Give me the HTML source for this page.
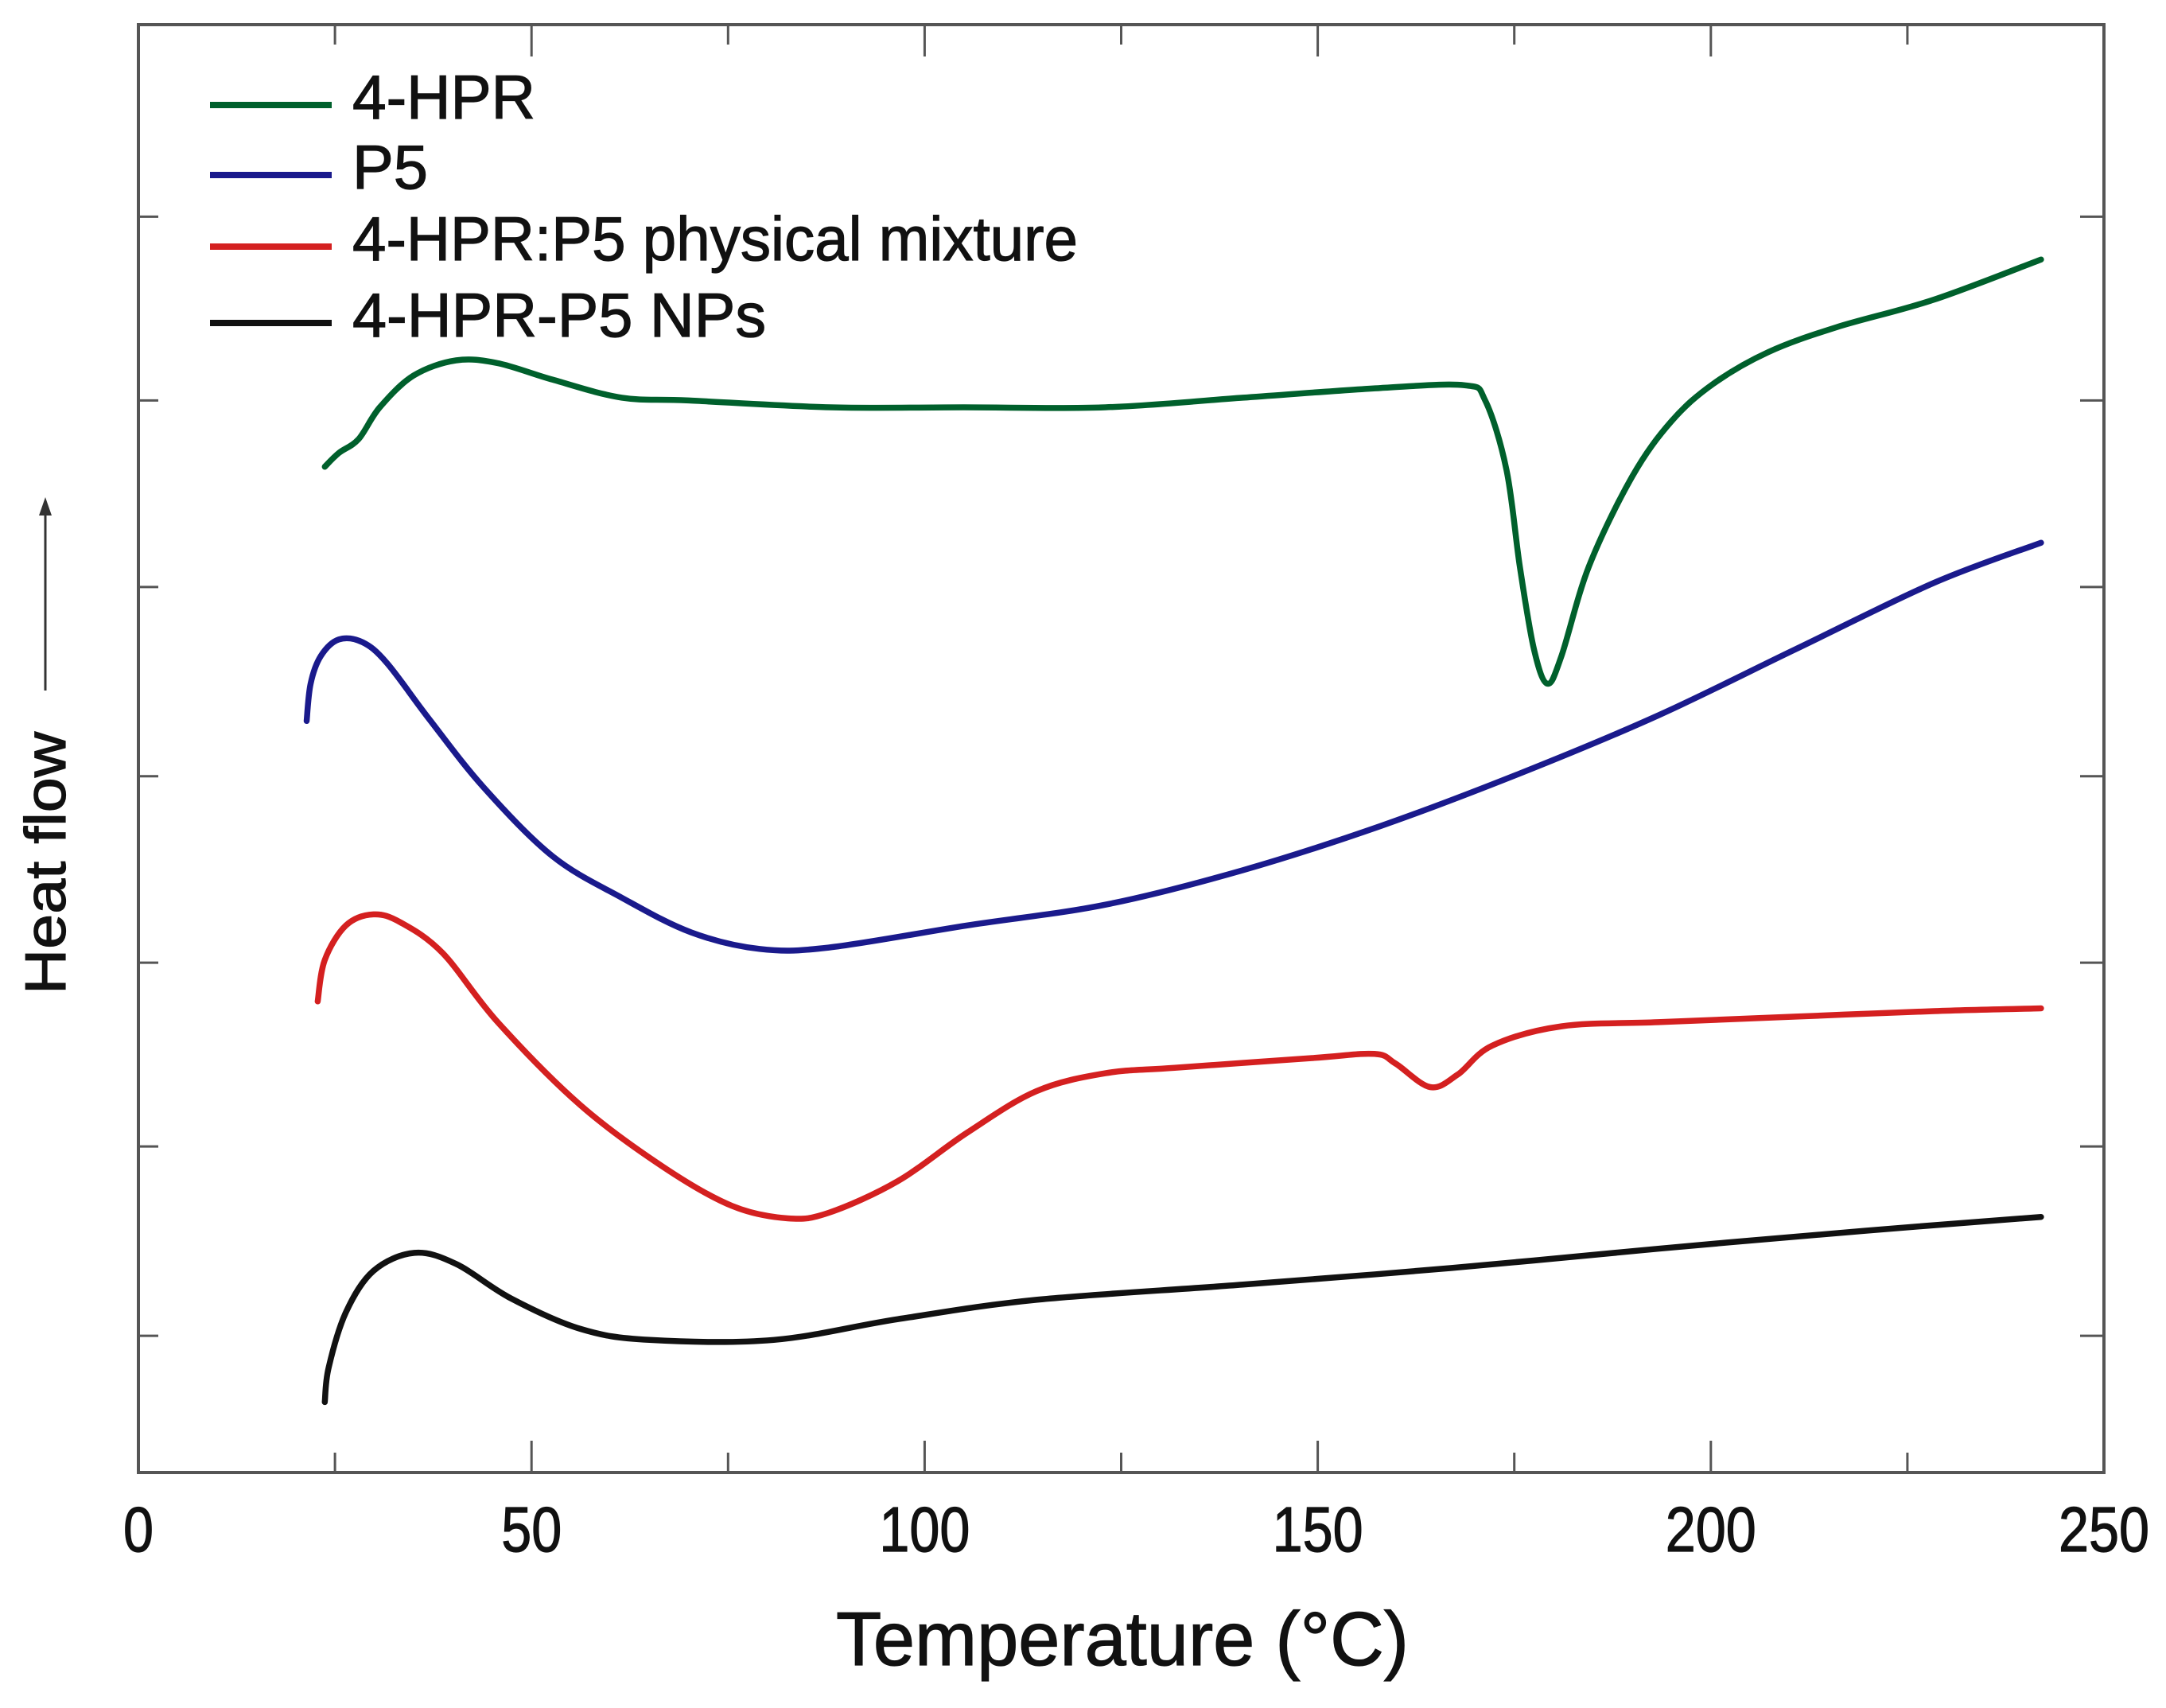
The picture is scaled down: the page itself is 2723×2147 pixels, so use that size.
<!DOCTYPE html>
<html><head><meta charset="utf-8"><style>
html,body{margin:0;padding:0;background:#fff;}
svg{display:block;}
text{font-family:"Liberation Sans",sans-serif;fill:#111;stroke:#111;stroke-width:1.2;}
</style></head><body>
<svg id="chart" width="2723" height="2147" viewBox="0 0 2723 2147" xmlns="http://www.w3.org/2000/svg">
<g id="plot"></g>
</svg>
<script>
const xTicks = [0, 50, 100, 150, 200, 250];
const xMinorTicks = [25, 75, 125, 175, 225];
const yTicks = [9.09, 7.76, 6.41, 5.04, 3.69, 2.36, 0.99];
const seriesNames = ["4-HPR", "P5", "4-HPR:P5 physical mixture", "4-HPR-P5 NPs"];
const seriesColors = ["#00602c", "#1a1a8c", "#d42020", "#111111"];
const greenT = [23.7,25.5,28,30.7,35,40.4,45.7,52.7,61.5,70,88,105,123,140.5,158,168.7,171.3,174,175.7,177.5,179.2,181,184.5,190,195,200.3,207.3,216,228.4,242];
const greenV = [7.28,7.38,7.48,7.71,7.94,8.05,8.03,7.91,7.78,7.76,7.71,7.71,7.71,7.78,7.85,7.87,7.76,7.26,6.56,5.96,5.71,5.91,6.56,7.21,7.61,7.88,8.11,8.29,8.49,8.78];
const blueT = [21.4,21.9,23.2,25.5,28.5,31.6,36.9,43.9,52.7,61.5,70.3,79,87.8,105.4,123,140.5,158,175.7,193.3,210.8,228.4,242];
const blueV = [5.44,5.71,5.91,6.03,6.01,5.86,5.46,4.96,4.46,4.16,3.91,3.79,3.80,3.96,4.11,4.36,4.68,5.06,5.48,5.96,6.44,6.73];
const redT = [22.8,23.7,26.4,29.9,33.4,38.7,45.7,56.2,66.8,75.5,82.6,87.8,96.6,105.4,114.2,123,131.8,149.3,157.2,159.9,164.3,167.8,172.2,181,193.3,210.8,228.4,242];
const redV = [3.41,3.71,3.96,4.04,3.98,3.76,3.26,2.66,2.21,1.93,1.84,1.88,2.11,2.46,2.76,2.89,2.93,3.00,3.03,2.96,2.79,2.88,3.09,3.23,3.26,3.30,3.34,3.36];
const blackT = [23.7,24.2,26.4,29.9,35.1,40.4,47.4,56.2,65,80.8,96.6,114.2,140.5,166.9,193.3,219.6,242];
const blackV = [0.51,0.76,1.16,1.46,1.59,1.51,1.26,1.04,0.96,0.96,1.11,1.25,1.36,1.48,1.62,1.75,1.85];

const L=174,R=2645,T=31,B=1851,XMIN=0,XMAX=250,YMIN=0,YMAX=10.48;
function xs(v){return L+(v-XMIN)/(XMAX-XMIN)*(R-L);}
function ys(v){return B-(v-YMIN)/(YMAX-YMIN)*(B-T);}
const NS="http://www.w3.org/2000/svg";
const plot=document.getElementById('plot');
function mk(tag,attrs,parent){const e=document.createElementNS(NS,tag);for(const k in attrs)e.setAttribute(k,attrs[k]);(parent||plot).appendChild(e);return e;}

function smoothPath(tx,vy){
  const p=tx.map((t,i)=>[xs(t),ys(vy[i])]);
  let d="M"+p[0][0].toFixed(1)+","+p[0][1].toFixed(1);
  for(let i=0;i<p.length-1;i++){
    const p0=p[i-1]||p[i],p1=p[i],p2=p[i+1],p3=p[i+2]||p2;
    const c1=[p1[0]+(p2[0]-p0[0])/6,p1[1]+(p2[1]-p0[1])/6];
    const c2=[p2[0]-(p3[0]-p1[0])/6,p2[1]-(p3[1]-p1[1])/6];
    d+=" C"+c1.map(v=>v.toFixed(1)).join(",")+" "+c2.map(v=>v.toFixed(1)).join(",")+" "+p2.map(v=>v.toFixed(1)).join(",");
  }
  return d;
}

xTicks.forEach(t=>{
  const a=mk('line',{x1:xs(t),x2:xs(t),y1:B,y2:B-40,stroke:'#555','stroke-width':3});
  
  
  const b=mk('line',{x1:xs(t),x2:xs(t),y1:T,y2:T+40,stroke:'#555','stroke-width':3});
  
  
  const lb=mk('text',{x:xs(t),y:1950,'text-anchor':'middle','font-size':80,textLength:String(t).length*38,lengthAdjust:'spacingAndGlyphs'});
  lb.textContent=t;
  
  
});
xMinorTicks.forEach(t=>{
  const a=mk('line',{x1:xs(t),x2:xs(t),y1:B,y2:B-25,stroke:'#555','stroke-width':3});
  
  
  const b=mk('line',{x1:xs(t),x2:xs(t),y1:T,y2:T+25,stroke:'#555','stroke-width':3});
  
  
});
yTicks.forEach(v=>{
  const a=mk('line',{x1:L,x2:L+25,y1:ys(v),y2:ys(v),stroke:'#555','stroke-width':3});
  
  
  const b=mk('line',{x1:R,x2:R-30,y1:ys(v),y2:ys(v),stroke:'#555','stroke-width':3});
  
  
});
const fr=mk('rect',{x:L,y:T,width:R-L,height:B-T,fill:'none',stroke:'#555','stroke-width':4});



const allT=[greenT,blueT,redT,blackT], allV=[greenV,blueV,redV,blackV];
const sNames=['curve-4-hpr','curve-p5','curve-physical-mixture','curve-nps'];
allT.forEach((tx,i)=>{
  const p=mk('path',{d:smoothPath(tx,allV[i]),fill:'none',stroke:seriesColors[i],'stroke-width':7.5,'stroke-linejoin':'round','stroke-linecap':'round'});
  
  
});

const legY=[114,202,292,388];
const legW=[230,95,912,520];
seriesNames.forEach((n,i)=>{
  const g=mk('g',{});
  
  
  mk('line',{x1:264,x2:417,y1:legY[i]+18,y2:legY[i]+18,stroke:seriesColors[i],'stroke-width':8},g);
  const t=mk('text',{x:443,y:legY[i]+35,'font-size':78,textLength:legW[i],lengthAdjust:'spacingAndGlyphs'},g);
  t.textContent=n;
});

const xt=mk('text',{x:1411,y:2093,'text-anchor':'middle','font-size':96,textLength:720,lengthAdjust:'spacingAndGlyphs'});
xt.textContent='Temperature (°C)';


const yt=mk('text',{x:0,y:0,'text-anchor':'middle','font-size':72,transform:'translate(82,1085) rotate(-90)',textLength:330,lengthAdjust:'spacingAndGlyphs'});
yt.textContent='Heat flow';


const ya=mk('g',{});


mk('line',{x1:57,x2:57,y1:868,y2:640,stroke:'#333','stroke-width':3},ya);
mk('path',{d:'M49,648 L57,625 L65,648 Z',fill:'#333'},ya);
</script>
</body></html>
